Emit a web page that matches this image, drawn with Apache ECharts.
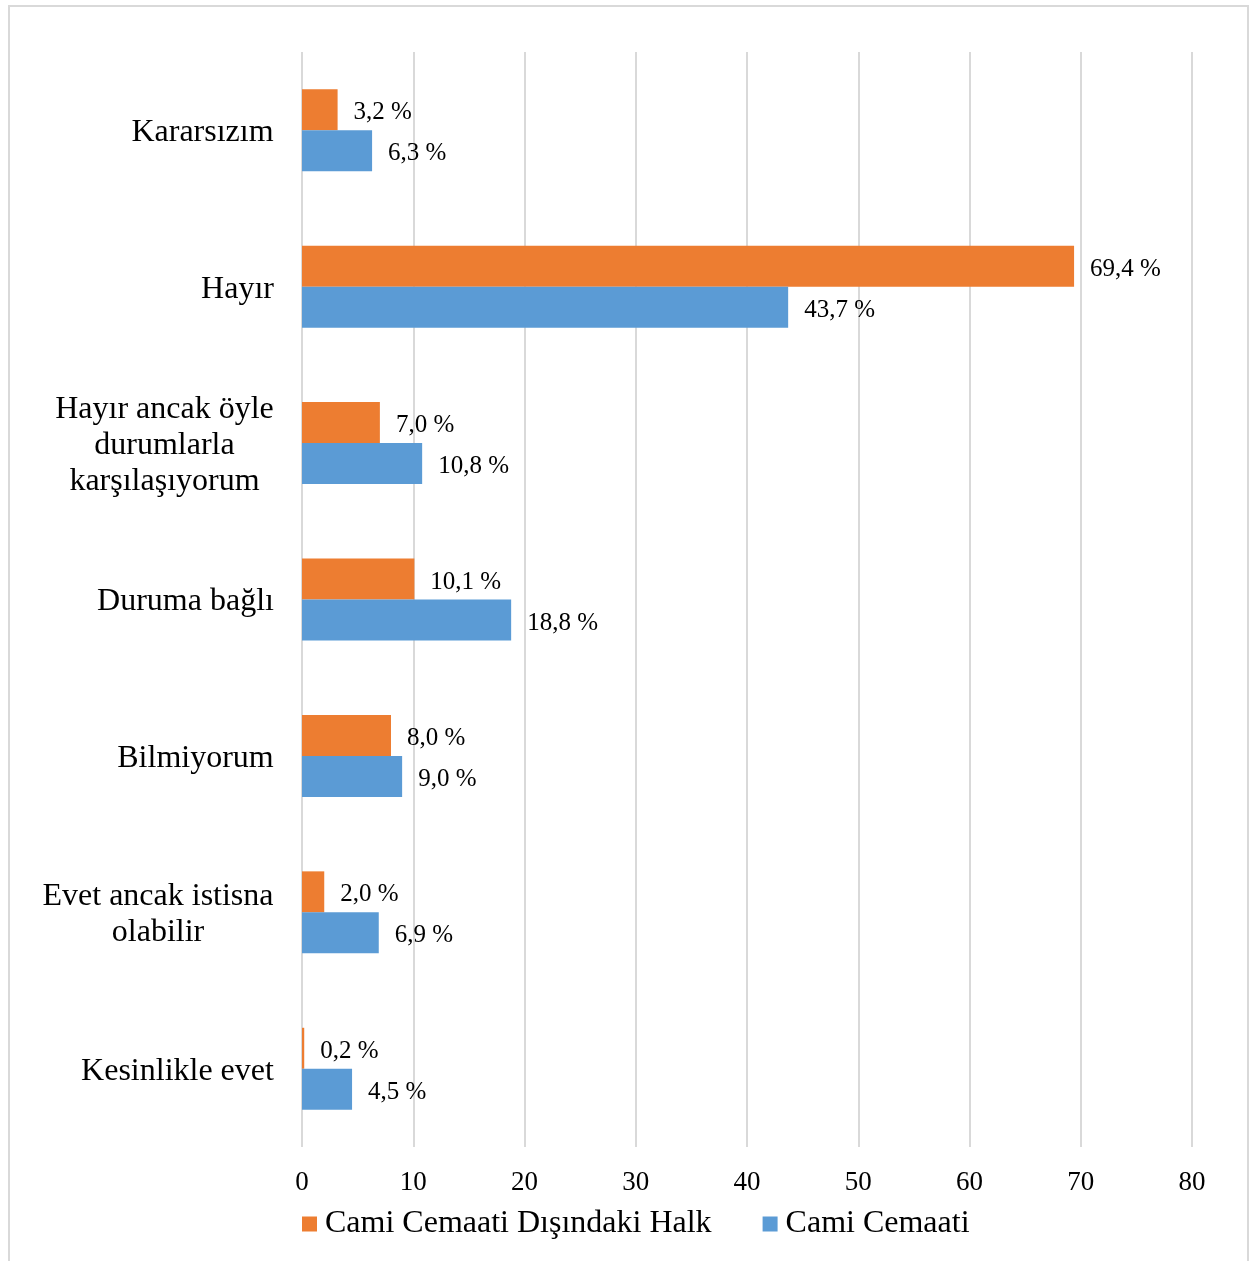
<!DOCTYPE html>
<html>
<head>
<meta charset="utf-8">
<script src="https://cdn.jsdelivr.net/npm/echarts@6/dist/echarts.min.js"></script>
<style>
html,body{margin:0;padding:0;background:#fff;}
#chart{width:1257px;height:1261px;}
</style>
</head>
<body>
<div id="chart"></div>
<script>
// Categories listed bottom -> top
const categories = [
  'Kesinlikle evet',
  'Evet ancak istisna\nolabilir',
  'Bilmiyorum',
  'Duruma bağlı',
  'Hayır ancak öyle\ndurumlarla\nkarşılaşıyorum',
  'Hayır',
  'Kararsızım'
];
const seriesNames = ['Cami Cemaati Dışındaki Halk', 'Cami Cemaati'];
const disindakiHalk = [0.2, 2.0, 8.0, 10.1, 7.0, 69.4, 3.2];
const camiCemaati = [4.5, 6.9, 9.0, 18.8, 10.8, 43.7, 6.3];
const xTicks = [0, 10, 20, 30, 40, 50, 60, 70, 80];

const FONT = '"Liberation Serif", "Times New Roman", serif';
const CAT_SIZE = 32;

// measure widths for centered multi-line category labels
const cv = document.createElement('canvas').getContext('2d');
cv.font = CAT_SIZE + 'px ' + FONT;
const rich = {};
categories.forEach((c, i) => {
  const w = Math.max(...c.split('\n').map(l => cv.measureText(l).width));
  rich['c' + i] = {width: Math.ceil(w), align: 'center', fontSize: CAT_SIZE, fontFamily: FONT, color: '#000', lineHeight: 36};
});

const fmt = p => p.value.toFixed(1).replace('.', ',') + ' %';
const labelCfg = {show: true, position: 'right', distance: 16, offset: [0, 3], formatter: fmt, fontSize: 25, fontFamily: FONT, color: '#000'};

const chart = echarts.init(document.getElementById('chart'), null, {renderer: 'canvas'});
chart.setOption({
  animation: false,
  backgroundColor: '#fff',
  graphic: [{
    type: 'rect', shape: {x: 9, y: 6, width: 1239, height: 1300},
    style: {fill: 'none', stroke: '#d9d9d9', lineWidth: 2}, silent: true
  }],
  grid: {left: 302, right: 65, top: 52, bottom: 114, containLabel: false},
  legend: {
    data: seriesNames, left: 302, top: 1208, padding: 0, icon: 'rect', itemWidth: 15, itemHeight: 15,
    itemGap: 51, textStyle: {fontSize: 32, fontFamily: FONT, color: '#000', padding: [0,0,0,3]}
  },
  xAxis: {
    type: 'value', min: 0, max: 80, interval: 10,
    axisLine: {show: false}, axisTick: {show: false},
    splitLine: {show: true, lineStyle: {color: '#d9d9d9', width: 2}},
    axisLabel: {fontSize: 27, fontFamily: FONT, color: '#000', margin: 22,
      formatter: v => xTicks.includes(v) ? String(v) : ''}
  },
  yAxis: {
    type: 'category', data: categories,
    axisLine: {show: false}, axisTick: {show: false},
    axisLabel: {margin: 28, padding: [5, 0, 0, 0], formatter: (v, i) => v.split('\n').map(l => '{c' + i + '|' + l + '}').join('\n'), rich: rich}
  },
  series: [
    {name: seriesNames[0], type: 'bar', data: disindakiHalk, barWidth: 41, barGap: '0%', itemStyle: {color: '#ED7D31'}, label: labelCfg},
    {name: seriesNames[1], type: 'bar', data: camiCemaati, barWidth: 41, barGap: '0%', itemStyle: {color: '#5B9BD5'}, label: labelCfg}
  ]
});
</script>
</body>
</html>
